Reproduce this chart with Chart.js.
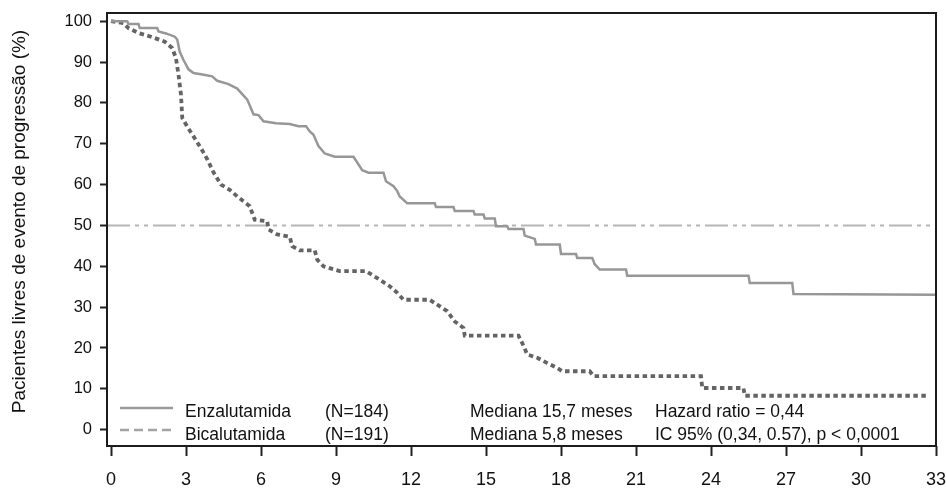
<!DOCTYPE html>
<html><head><meta charset="utf-8">
<script src="https://cdn.jsdelivr.net/npm/chart.js@4.4.1/dist/chart.umd.min.js"></script>
<style>html,body{margin:0;padding:0;background:#fff}canvas{display:block}</style>
</head><body>
<canvas id="c" width="946" height="490"></canvas>
<script>
// ---- data ----
const xTicks = [0, 3, 6, 9, 12, 15, 18, 21, 24, 27, 30, 33];
const yTicks = [0, 10, 20, 30, 40, 50, 60, 70, 80, 90, 100];

const enzaT = [0, 0.65, 0.7, 1.1, 1.15, 1.85, 1.9, 2.2, 2.55, 2.65, 2.75, 2.9, 3.1, 3.3, 3.6, 4.05, 4.25, 4.7, 5.05, 5.45, 5.7, 5.9, 6.1, 6.6, 7.15, 7.5, 7.8, 7.95, 8.1, 8.3, 8.55, 8.95, 9.7, 10.05, 10.3, 10.9, 11.0, 11.3, 11.45, 11.55, 11.85, 12.95, 13.0, 13.7, 13.75, 14.5, 14.55, 14.9, 14.95, 15.35, 15.4, 15.85, 15.9, 16.5, 16.55, 16.95, 17.0, 17.95, 18.0, 18.6, 18.65, 19.25, 19.35, 19.55, 20.6, 20.65, 25.5, 25.55, 27.25, 27.3, 33];
const enzaV = [100, 100, 99.3, 99.3, 98.3, 98.3, 97.5, 97, 96.2, 95.5, 92.5, 90.5, 88.2, 87.3, 87, 86.5, 85.4, 84.6, 83.5, 80.8, 77.2, 77, 75.5, 75, 74.8, 74.3, 74.3, 73, 72.2, 69.4, 67.6, 66.8, 66.8, 63.5, 62.9, 62.9, 60.8, 59.6, 58.4, 57.1, 55.4, 55.4, 54.5, 54.5, 53.5, 53.5, 52.7, 52.7, 51.7, 51.7, 49.8, 49.8, 49.1, 49.1, 47.5, 46.7, 45.3, 45.3, 43.0, 43.0, 42.0, 42.0, 40.5, 39.2, 39.2, 37.7, 37.7, 35.9, 35.9, 33.2, 33.0];

const bicaT = [0, 0.5, 0.7, 1.1, 1.6, 2.15, 2.45, 2.6, 2.7, 2.8, 2.85, 3.05, 3.3, 3.6, 3.85, 4.1, 4.4, 4.75, 5.05, 5.55, 5.75, 6.25, 6.3, 6.65, 7.15, 7.25, 7.55, 8.15, 8.25, 8.5, 9.15, 10.2, 10.65, 11.15, 11.45, 11.7, 12.75, 13.05, 13.45, 13.75, 14.1, 14.15, 16.3, 16.45, 16.65, 17.05, 17.45, 17.85, 18.05, 19.15, 19.3, 23.6, 23.65, 25.3, 25.35, 32.7];
const bicaV = [100, 99.5, 98.3, 97.1, 96.2, 95.0, 93.4, 90.9, 86.9, 82.0, 76.3, 74.2, 71.8, 68.9, 66.2, 63.0, 60.0, 58.7, 57.1, 54.7, 51.4, 51.0, 49.0, 47.8, 47.2, 44.9, 43.9, 43.9, 41.6, 40.0, 38.8, 38.8, 37.1, 35.1, 33.5, 31.8, 31.8, 30.6, 29.0, 26.5, 24.9, 23.0, 23.0, 21.2, 18.4, 17.6, 16.3, 15.1, 14.3, 14.3, 13.1, 13.1, 10.2, 10.2, 8.3, 8.3];

const refT = [-0.16, 33];
const refV = [50, 50];

const seriesNames = ['Enzalutamida', 'Bicalutamida'];
const seriesN = ['(N=184)', '(N=191)'];
const seriesMedian = ['Mediana 15,7 meses', 'Mediana 5,8 meses'];
const statsText = ['Hazard ratio = 0,44', 'IC 95% (0,34, 0.57), p < 0,0001'];
const yTitle = 'Pacientes livres de evento de progressão (%)';

// ---- chart ----
const FONT = "'Liberation Sans', Arial, sans-serif";
Chart.defaults.font.family = FONT;
Chart.defaults.color = '#111';

const pts = (t, v) => t.map((x, i) => ({ x, y: v[i] }));

const decor = {
  id: 'decor',
  afterDatasetsDraw(chart) {
    const { ctx, chartArea: a } = chart;
    ctx.save();
    // box
    ctx.strokeStyle = '#1c1c1c';
    ctx.lineWidth = 2;
    ctx.strokeRect(a.left, a.top, a.right - a.left, a.bottom - a.top);
    // legend
    const rowsLine = [a.bottom - 38, a.bottom - 16];
    const rowsText = [a.bottom - 29, a.bottom - 6];
    const styles = [
      { c: '#9a9a9a', w: 2.5, d: [] },
      { c: '#a3a3a3', w: 2.5, d: [9, 5] }
    ];
    for (let i = 0; i < 2; i++) {
      ctx.beginPath();
      ctx.setLineDash(styles[i].d);
      ctx.strokeStyle = styles[i].c;
      ctx.lineWidth = styles[i].w;
      ctx.moveTo(a.left + 13, rowsLine[i]);
      ctx.lineTo(a.left + 66, rowsLine[i]);
      ctx.stroke();
    }
    ctx.setLineDash([]);
    ctx.fillStyle = '#111';
    ctx.font = '17.5px ' + FONT;
    ctx.textBaseline = 'alphabetic';
    ctx.textAlign = 'left';
    for (let i = 0; i < 2; i++) {
      ctx.fillText(seriesNames[i], a.left + 78, rowsText[i]);
      ctx.fillText(seriesN[i], a.left + 218, rowsText[i]);
      ctx.fillText(seriesMedian[i], a.left + 363, rowsText[i]);
      ctx.fillText(statsText[i], a.left + 548, rowsText[i]);
    }
    // y axis title
    ctx.translate(20, (a.top + a.bottom) / 2 - 8);
    ctx.rotate(-Math.PI / 2);
    ctx.textAlign = 'center';
    ctx.textBaseline = 'middle';
    ctx.font = '19px ' + FONT;
    ctx.fillText(yTitle, 0, 0);
    ctx.restore();
  }
};

new Chart(document.getElementById('c'), {
  type: 'line',
  data: {
    datasets: [
      { label: seriesNames[0], data: pts(enzaT, enzaV), borderColor: '#979797', borderWidth: 2.5, pointRadius: 0, tension: 0, fill: false },
      { label: seriesNames[1], data: pts(bicaT, bicaV), borderColor: '#646464', borderWidth: 3.8, borderDash: [4.5, 3.5], borderCapStyle: 'butt', pointRadius: 0, tension: 0, fill: false },
      { label: 'ref', data: pts(refT, refV), borderColor: '#b6b6b6', borderWidth: 2, borderDash: [23, 5, 4, 5, 4, 5], pointRadius: 0, fill: false }
    ]
  },
  options: {
    responsive: false,
    animation: false,
    devicePixelRatio: 1,
    layout: { padding: { top: 13, right: 10, left: 0, bottom: 0 } },
    plugins: { legend: { display: false }, tooltip: { enabled: false } },
    scales: {
      x: {
        type: 'linear', min: -0.16, max: 33,
        afterBuildTicks: s => { s.ticks = xTicks.map(v => ({ value: v })); },
        afterFit: s => { s.height = 44; s.paddingLeft = 0; s.paddingRight = 0; },
        border: { display: false },
        grid: { drawOnChartArea: false, drawTicks: true, tickLength: 10, tickWidth: 2, tickColor: '#222' },
        ticks: { font: { size: 18 }, color: '#111', padding: 13, maxRotation: 0, autoSkip: false }
      },
      y: {
        type: 'linear', min: -4, max: 102,
        afterBuildTicks: s => { s.ticks = yTicks.map(v => ({ value: v })); },
        afterFit: s => { s.width = 107; s.paddingTop = 0; s.paddingBottom = 0; },
        border: { display: false },
        grid: { drawOnChartArea: false, drawTicks: true, tickLength: 7, tickWidth: 2, tickColor: '#222' },
        ticks: { font: { size: 16.5 }, color: '#111', padding: 8, autoSkip: false }
      }
    }
  },
  plugins: [decor]
});
</script>
</body></html>
